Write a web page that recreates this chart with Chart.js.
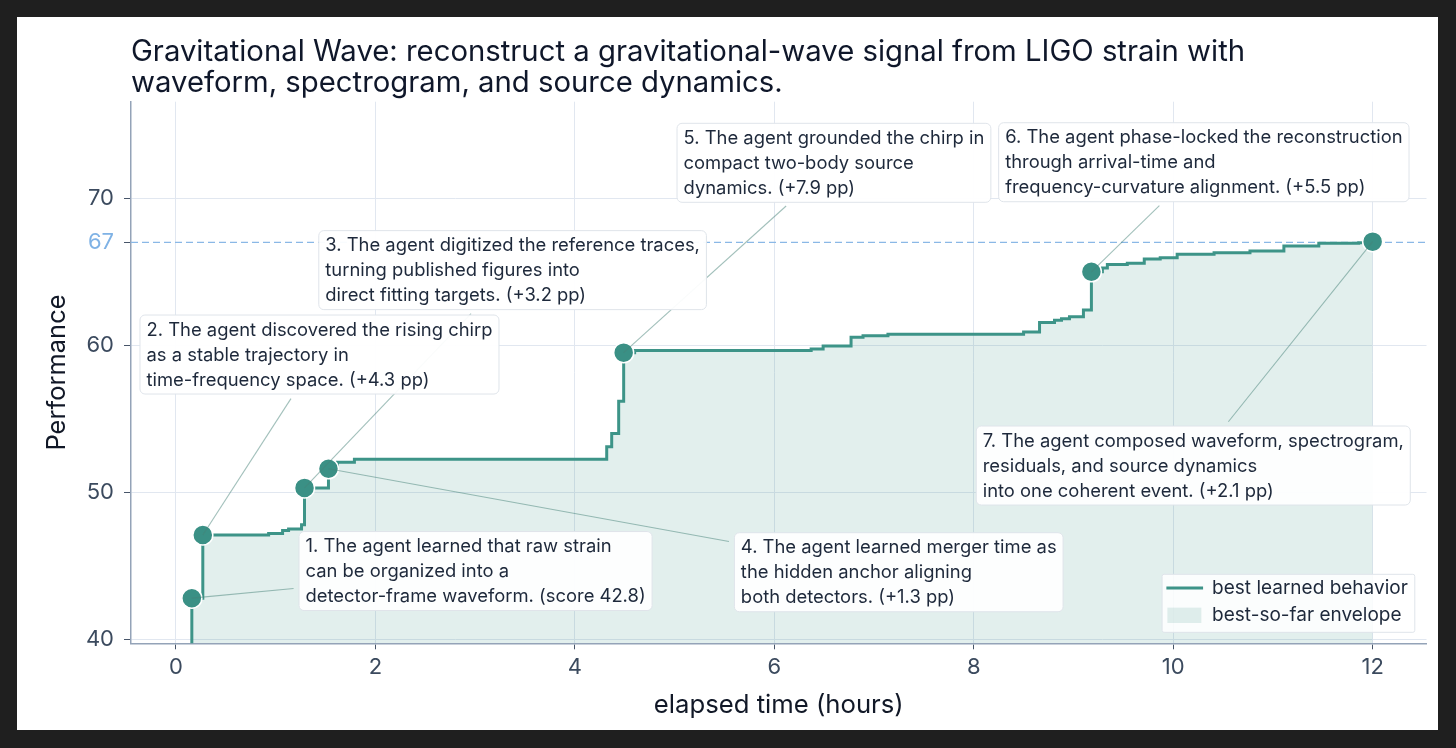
<!DOCTYPE html>
<html>
<head>
<meta charset="utf-8">
<script src="https://cdn.jsdelivr.net/npm/chart.js@4.4.1/dist/chart.umd.min.js"></script>
<style>
  html, body { margin: 0; padding: 0; background: #1f1f1f; }
  #card { position: absolute; left: 17px; top: 17px; width: 1421px; height: 713px; background: #fff; }
  canvas { display: block; }
</style>
</head>
<body>
<div id="card"><canvas id="chart" width="1421" height="713"></canvas></div>
<script>
const titleLines = [
    'Gravitational Wave: reconstruct a gravitational-wave signal from LIGO strain with',
    'waveform, spectrogram, and source dynamics.'
];

// best-so-far curve (step after each point)
const stepHours = [0.16, 0.16, 0.27, 0.93, 1.07, 1.13, 1.26, 1.29, 1.53, 1.62, 1.79, 4.32, 4.37, 4.44, 4.49, 4.60,
    6.37, 6.49, 6.77, 6.89, 7.14, 8.50, 8.66, 8.81, 8.88, 8.96, 9.10, 9.18, 9.29, 9.34, 9.54, 9.71, 9.87,
    10.04, 10.41, 10.77, 11.11, 11.46, 11.86, 12.0];
const stepScores = [39.5, 42.8, 47.1, 47.2, 47.4, 47.5, 47.8, 50.3, 51.6, 52.05, 52.25, 53.1, 54.0, 56.2, 59.5, 59.65,
    59.75, 59.95, 60.55, 60.65, 60.75, 60.9, 61.55, 61.7, 61.8, 61.95, 62.4, 65.0, 65.25, 65.5, 65.58, 65.87, 65.96,
    66.19, 66.3, 66.41, 66.75, 66.94, 66.98, 67.05];

const milestoneHours = [0.16, 0.27, 1.29, 1.53, 4.49, 9.18, 12.0];
const milestoneScores = [42.8, 47.1, 50.3, 51.6, 59.5, 65.0, 67.05];

const bestScore = 67;
const xTicks = [0, 2, 4, 6, 8, 10, 12];
const yTicks = [40, 50, 60, 67, 70];

const noteTexts = [
    ['1. The agent learned that raw strain', 'can be organized into a', 'detector-frame waveform. (score 42.8)'],
    ['2. The agent discovered the rising chirp', 'as a stable trajectory in', 'time-frequency space. (+4.3 pp)'],
    ['3. The agent digitized the reference traces,', 'turning published figures into', 'direct fitting targets. (+3.2 pp)'],
    ['4. The agent learned merger time as', 'the hidden anchor aligning', 'both detectors. (+1.3 pp)'],
    ['5. The agent grounded the chirp in', 'compact two-body source', 'dynamics. (+7.9 pp)'],
    ['6. The agent phase-locked the reconstruction', 'through arrival-time and', 'frequency-curvature alignment. (+5.5 pp)'],
    ['7. The agent composed waveform, spectrogram,', 'residuals, and source dynamics', 'into one coherent event. (+2.1 pp)']
];
// top-left corner of each note box, in data units
const noteBoxHours = [1.235, -0.36, 1.433, 5.60, 5.025, 8.25, 8.025];
const noteBoxScores = [47.33, 62.06, 67.80, 47.25, 75.10, 75.14, 54.51];

const lineLabel = 'best learned behavior';
const envelopeLabel = 'best-so-far envelope';

const TEAL = '#3d9488';
const ENVELOPE = 'rgba(61, 148, 136, 0.15)';
const INK = '#1e293b';
const FONT = 'Inter';

const notesPlugin = {
    id: 'notes',
    afterDatasetsDraw(chart) {
        const { ctx, scales: { x, y } } = chart;
        ctx.save();
        ctx.font = `18.4px ${FONT}`;
        const boxes = noteTexts.map((lines, i) => ({
            left: x.getPixelForValue(noteBoxHours[i]),
            top: y.getPixelForValue(noteBoxScores[i]),
            w: Math.max(...lines.map(l => ctx.measureText(l).width)) + 13,
            h: 79,
            lines
        }));

        // leader lines: from the milestone toward the box centre, stopping short of the box
        ctx.strokeStyle = 'rgba(70, 130, 120, 0.5)';
        ctx.lineWidth = 1.1;
        boxes.forEach((b, i) => {
            const mx = x.getPixelForValue(milestoneHours[i]);
            const my = y.getPixelForValue(milestoneScores[i]);
            const dx = b.left + b.w / 2 - mx;
            const dy = b.top + b.h / 2 - my;
            const tx = dx > 0 ? (b.left - mx) / dx : (b.left + b.w - mx) / dx;
            const ty = dy > 0 ? (b.top - my) / dy : (b.top + b.h - my) / dy;
            const t = Math.max(tx, ty) - 5.5 / Math.hypot(dx, dy);
            ctx.beginPath();
            ctx.moveTo(mx, my);
            ctx.lineTo(mx + dx * t, my + dy * t);
            ctx.stroke();
        });

        boxes.forEach(b => {
            ctx.beginPath();
            ctx.roundRect(b.left, b.top, b.w, b.h, 5);
            ctx.fillStyle = 'rgba(255, 255, 255, 0.95)';
            ctx.fill();
            ctx.strokeStyle = '#dfe4ea';
            ctx.lineWidth = 1;
            ctx.stroke();
            ctx.fillStyle = INK;
            ctx.textBaseline = 'alphabetic';
            ctx.textAlign = 'left';
            b.lines.forEach((l, j) => ctx.fillText(l, b.left + 6.5, b.top + 20.5 + j * 25));
        });
        ctx.restore();
    }
};

const legendPlugin = {
    id: 'cornerLegend',
    afterDraw(chart) {
        const { ctx, chartArea } = chart;
        ctx.save();
        ctx.font = `19px ${FONT}`;
        const labels = [lineLabel, envelopeLabel];
        const w = 50 + Math.max(...labels.map(l => ctx.measureText(l).width)) + 7;
        const h = 58;
        const left = chartArea.right - 11.7 - w;
        const top = chartArea.bottom - 11 - h;

        ctx.beginPath();
        ctx.roundRect(left, top, w, h, 2);
        ctx.fillStyle = 'rgba(255, 255, 255, 0.85)';
        ctx.fill();
        ctx.strokeStyle = '#dfe4ea';
        ctx.lineWidth = 1;
        ctx.stroke();

        ctx.strokeStyle = TEAL;
        ctx.lineWidth = 3;
        ctx.beginPath();
        ctx.moveTo(left + 4.3, top + 13.7);
        ctx.lineTo(left + 41, top + 13.7);
        ctx.stroke();
        ctx.fillStyle = ENVELOPE;
        ctx.fillRect(left + 5.3, top + 33.3, 34, 15.4);

        ctx.fillStyle = INK;
        ctx.textBaseline = 'middle';
        ctx.fillText(labels[0], left + 50, top + 14);
        ctx.fillText(labels[1], left + 50, top + 41);
        ctx.restore();
    }
};

const ctx = document.getElementById('chart').getContext('2d');
new Chart(ctx, {
    type: 'line',
    data: {
        datasets: [{
            label: 'milestones',
            data: milestoneHours.map((h, i) => ({ x: h, y: milestoneScores[i] })),
            showLine: false,
            pointRadius: 10,
            pointBackgroundColor: '#3a9085',
            pointBorderColor: '#ffffff',
            pointBorderWidth: 1.5,
            order: 0
        }, {
            label: lineLabel,
            data: stepHours.map((h, i) => ({ x: h, y: stepScores[i] })),
            stepped: 'before',
            borderColor: TEAL,
            borderWidth: 3,
            backgroundColor: ENVELOPE,
            fill: 'start',
            pointRadius: 0,
            order: 1
        }, {
            label: 'best',
            data: [{ x: -0.45, y: bestScore }, { x: 12.54, y: bestScore }],
            borderColor: '#8ab8e6',
            borderWidth: 1.4,
            borderDash: [7, 4],
            pointRadius: 0,
            fill: false,
            order: 2
        }]
    },
    options: {
        responsive: false,
        animation: false,
        devicePixelRatio: 1,
        layout: { padding: { top: 0, right: 8, bottom: 0, left: 0 } },
        plugins: {
            legend: { display: false },
            tooltip: { enabled: false },
            title: {
                display: true,
                text: titleLines,
                align: 'start',
                fullSize: false,
                color: '#0f172a',
                font: { family: FONT, size: 29.3, weight: 'normal', lineHeight: '31px' },
                padding: { top: 19.2, bottom: 3.5 }
            }
        },
        scales: {
            x: {
                type: 'linear',
                min: -0.45,
                max: 12.54,
                afterBuildTicks: s => { s.ticks = xTicks.map(v => ({ value: v })); },
                afterFit: s => { s.height = 86.7; },
                grid: { color: '#e1e7f0', tickLength: 6, tickColor: '#475569' },
                border: { color: '#94a3b8', width: 1.5 },
                ticks: { color: '#3b4a5e', font: { family: FONT, size: 22 }, padding: 4.5 },
                title: {
                    display: true,
                    text: 'elapsed time (hours)',
                    color: '#111827',
                    font: { family: FONT, size: 25.7 },
                    padding: { top: 0, bottom: 9.6 }
                }
            },
            y: {
                min: 39.73,
                max: 76.57,
                afterBuildTicks: s => { s.ticks = yTicks.map(v => ({ value: v })); },
                afterFit: s => { s.width = 114; },
                grid: {
                    color: c => (c.tick && c.tick.value === bestScore) ? 'rgba(0,0,0,0)' : '#e1e7f0',
                    tickLength: 7,
                    tickColor: '#475569'
                },
                border: { color: '#94a3b8', width: 1.5 },
                ticks: {
                    color: c => c.tick.value === bestScore ? '#7fb2e5' : '#3b4a5e',
                    font: { family: FONT, size: 22 },
                    padding: 10
                },
                title: {
                    display: true,
                    text: 'Performance',
                    color: '#111827',
                    font: { family: FONT, size: 25.5 },
                    padding: { top: 24.7, bottom: 0 }
                }
            }
        }
    },
    plugins: [notesPlugin, legendPlugin]
});
</script>
</body>
</html>
